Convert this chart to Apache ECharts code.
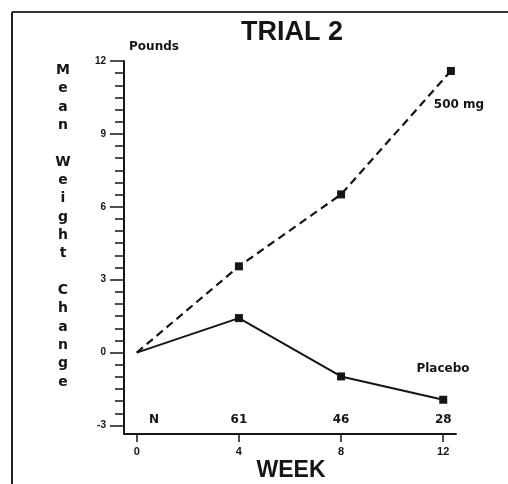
<!DOCTYPE html>
<html>
<head>
<meta charset="utf-8">
<script src="https://cdn.jsdelivr.net/npm/echarts@6/dist/echarts.min.js"></script>
<style>
  html, body { margin: 0; padding: 0; background: #fff; }
  #chart { width: 508px; height: 484px; }
</style>
</head>
<body>
<div id="chart"></div>
<script>
// data
const weeks = [0, 4, 8, 12];
const weeks500 = [0, 4, 8, 12.3];
const dose500 = [0, 3.55, 6.51, 11.59];
const placebo = [0, 1.42, -0.98, -1.94];
const nLabels = ['N', '61', '46', '28'];
const nWeeks = [0.68, 4, 8, 12];
const xTicks = [0, 4, 8, 12];
const yMajor = [-3, 0, 3, 6, 9, 12];
const yMinor = [-3, -2.5, -2, -1.5, -1, -0.5, 0, 0.5, 1, 1.5, 2, 2.5, 3, 3.5, 4, 4.5, 5, 5.5, 6,
  6.5, 7, 7.5, 8, 8.5, 9, 9.5, 10, 10.5, 11, 11.5, 12];

const ink = '#151515';
const smallFont = 'DejaVu Sans';
const bigFont = 'Liberation Sans';

function points(xs, ys) {
  return xs.map((x, i) => (i === 0 ? { value: [x, ys[i]], symbol: 'none' } : [x, ys[i]]));
}

const chart = echarts.init(document.getElementById('chart'));

chart.setOption({
  animation: false,
  backgroundColor: '#fff',
  grid: { left: 124, right: 52, top: 61, bottom: 50 },
  xAxis: {
    type: 'value',
    min: -0.5,
    max: 12.5,
    splitLine: { show: false },
    axisLine: { onZero: false, lineStyle: { color: ink, width: 2 } },
    axisTick: { customValues: xTicks, length: 8, lineStyle: { color: ink, width: 1.5 } },
    axisLabel: {
      customValues: xTicks,
      margin: 12,
      color: ink,
      fontFamily: bigFont,
      fontWeight: 'bold',
      fontSize: 11
    }
  },
  yAxis: [
    {
      type: 'value',
      min: -3.35,
      max: 12,
      splitLine: { show: false },
      axisLine: { onZero: false, lineStyle: { color: ink, width: 2 } },
      axisTick: { customValues: yMinor, length: 9, lineStyle: { color: ink, width: 1.5 } },
      axisLabel: {
        customValues: yMajor,
        margin: 18,
        color: ink,
        fontFamily: bigFont,
        fontWeight: 'bold',
        fontSize: 10
      }
    },
    {
      type: 'value',
      position: 'left',
      min: -3.35,
      max: 12,
      splitLine: { show: false },
      axisLine: { show: false, onZero: false },
      axisTick: { customValues: yMajor, length: 14, lineStyle: { color: ink, width: 1.5 } },
      axisLabel: { show: false }
    }
  ],
  series: [
    {
      name: '500 mg',
      type: 'line',
      data: points(weeks500, dose500),
      symbol: 'rect',
      symbolSize: 8,
      itemStyle: { color: ink },
      lineStyle: { color: ink, width: 2.2, type: [8, 5] }
    },
    {
      name: 'Placebo',
      type: 'line',
      data: points(weeks, placebo),
      symbol: 'rect',
      symbolSize: 8,
      itemStyle: { color: ink },
      lineStyle: { color: ink, width: 2 }
    },
    {
      name: 'N',
      type: 'scatter',
      symbol: 'circle',
      symbolSize: 1,
      itemStyle: { color: 'transparent', opacity: 1 },
      data: nWeeks.map((w, i) => ({ value: [w, -2.72], label: { formatter: nLabels[i] } })),
      label: {
        show: true,
        position: 'top',
        distance: 0,
        offset: [0, 7.5],
        color: ink,
        opacity: 1,
        textBorderWidth: 0,
        fontFamily: smallFont,
        fontWeight: 'bold',
        fontSize: 12
      }
    }
  ],
  graphic: [
    // scanned frame
    { type: 'line', shape: { x1: 12, y1: 12, x2: 508, y2: 12 }, style: { stroke: '#333', lineWidth: 2 } },
    { type: 'line', shape: { x1: 12, y1: 12, x2: 12, y2: 484 }, style: { stroke: '#222', lineWidth: 2 } },
    {
      type: 'text', x: 292, y: 33,
      style: { text: 'TRIAL 2', fill: ink, font: 'bold 27px "Liberation Sans"', textAlign: 'center', textVerticalAlign: 'middle' }
    },
    {
      type: 'text', x: 154, y: 47,
      style: { text: 'Pounds', fill: ink, font: 'bold 12px "DejaVu Sans"', textAlign: 'center', textVerticalAlign: 'middle' }
    },
    {
      type: 'text', x: 63, y: 61,
      style: {
        text: 'M\ne\na\nn\n\nW\ne\ni\ng\nh\nt\n\nC\nh\na\nn\ng\ne',
        fill: ink,
        font: 'bold 14px "DejaVu Sans"',
        lineHeight: 18.35,
        textAlign: 'center',
        textVerticalAlign: 'top'
      }
    },
    {
      type: 'text', x: 459, y: 105,
      style: { text: '500 mg', fill: ink, font: 'bold 12px "DejaVu Sans"', textAlign: 'center', textVerticalAlign: 'middle' }
    },
    {
      type: 'text', x: 443, y: 369,
      style: { text: 'Placebo', fill: ink, font: 'bold 12px "DejaVu Sans"', textAlign: 'center', textVerticalAlign: 'middle' }
    },
    {
      type: 'text', x: 291, y: 471,
      style: { text: 'WEEK', fill: ink, font: 'bold 23px "Liberation Sans"', textAlign: 'center', textVerticalAlign: 'middle' }
    }
  ]
});
</script>
</body>
</html>
